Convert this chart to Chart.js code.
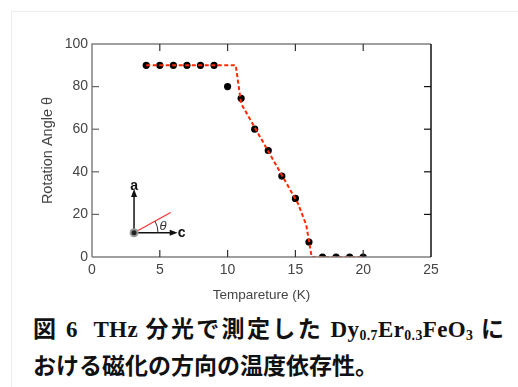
<!DOCTYPE html>
<html lang="ja">
<head>
<meta charset="utf-8">
<script src="https://cdn.jsdelivr.net/npm/chart.js@4"></script>
<style>
  html, body { margin:0; padding:0; background:#fff; }
  body { width:518px; height:387px; position:relative; overflow:hidden; }
  #frame { position:absolute; left:11px; top:11px; right:-10px; bottom:-10px; border-top:1px solid #ececec; border-left:1px solid #ececec; }
  #wrap { position:absolute; left:0; top:0; width:518px; height:310px; }
  #cap { position:absolute; left:33px; top:313px; width:471px; font-family:"Noto Sans CJK JP",sans-serif; font-weight:bold; font-size:23px; line-height:29px; color:#111; white-space:nowrap; }
  #l1 { text-align:justify; text-align-last:justify; white-space:normal; }
  #cap .en { font-family:"Liberation Serif","DejaVu Serif",serif; letter-spacing:0.4px; }
  #cap .thz { margin-left:8px; }
  #cap sub { font-size:0.6em; vertical-align:-0.2em; }
</style>
</head>
<body>
<div id="frame"></div>
<div id="wrap"><canvas id="chart" width="518" height="310"></canvas></div>
<div id="cap">
  <div id="l1">図 <span class="en">6</span> <span class="en thz">THz</span> 分光で測定した <span class="en">Dy<sub>0.7</sub>Er<sub>0.3</sub>FeO<sub>3</sub></span> に</div>
  <div id="l2">おける磁化の方向の温度依存性。</div>
</div>
<script>
// measured points
const tempK = [4, 5, 6, 7, 8, 9, 10, 11, 12, 13, 14, 15, 16, 17, 18, 19, 20]
const angleDeg = [90, 90, 90, 90, 90, 90, 80, 74.5, 60, 50, 38, 27.5, 7, 0, 0, 0, 0]
// red dashed guide line
const fitK = [4, 10.6, 11, 15.2, 15.8, 16.2, 20]
const fitDeg = [90, 90, 72, 25, 15, 0, 0]
const xTicks = [0, 5, 10, 15, 20, 25]
const yTicks = [0, 20, 40, 60, 80, 100]

// inset sketch (crystal axes), in data units
const insetOrigin = [3.1, 11.4]
const insetA = [3.1, 30.5]
const insetC = [6.1, 11.4]
const insetM = [5.8, 20.9]

const toXY = (xs, ys) => xs.map((x, i) => ({x: x, y: ys[i]}))

const tickFont = {family: '"Liberation Sans", Arial, sans-serif', size: 14}
const titleFont = {family: '"Liberation Sans", Arial, sans-serif', size: 13.5}

//box + inward ticks on all four sides
const framePlugin = {
  id: 'frame',
  afterDraw(chart) {
    const {ctx, chartArea: a, scales} = chart
    const x = scales.x, y = scales.y
    const len = 7
    ctx.save()
    ctx.lineWidth = 1.5
    ctx.strokeStyle = '#808080'
    ctx.beginPath()
    ctx.moveTo(a.left, a.bottom); ctx.lineTo(a.left, a.top); ctx.lineTo(a.right, a.top)
    ctx.moveTo(a.left, a.bottom); ctx.lineTo(a.right, a.bottom)
    ctx.stroke()
    ctx.strokeStyle = '#111'
    ctx.beginPath()
    ctx.moveTo(a.right, a.top); ctx.lineTo(a.right, a.bottom)
    ctx.stroke()
    ctx.lineWidth = 1.2
    xTicks.slice(1, -1).forEach(v => {
      const px = x.getPixelForValue(v)
      ctx.strokeStyle = '#333'
      ctx.beginPath()
      ctx.moveTo(px, a.bottom); ctx.lineTo(px, a.bottom - len)
      ctx.moveTo(px, a.top); ctx.lineTo(px, a.top + len)
      ctx.stroke()
    })
    yTicks.slice(1, -1).forEach(v => {
      const py = y.getPixelForValue(v)
      ctx.strokeStyle = '#666'
      ctx.beginPath(); ctx.moveTo(a.left, py); ctx.lineTo(a.left + len, py); ctx.stroke()
      ctx.strokeStyle = '#111'
      ctx.beginPath(); ctx.moveTo(a.right, py); ctx.lineTo(a.right - len, py); ctx.stroke()
    })
    ctx.restore()
  }
}

function arrow(ctx, x0, y0, x1, y1) {
  const ang = Math.atan2(y1 - y0, x1 - x0)
  ctx.beginPath(); ctx.moveTo(x0, y0); ctx.lineTo(x1, y1); ctx.stroke()
  ctx.beginPath()
  ctx.moveTo(x1 + 3 * Math.cos(ang), y1 + 3 * Math.sin(ang))
  ctx.lineTo(x1 - 5 * Math.cos(ang) + 3 * Math.sin(ang), y1 - 5 * Math.sin(ang) - 3 * Math.cos(ang))
  ctx.lineTo(x1 - 5 * Math.cos(ang) - 3 * Math.sin(ang), y1 - 5 * Math.sin(ang) + 3 * Math.cos(ang))
  ctx.closePath(); ctx.fill()
}

const insetPlugin = {
  id: 'inset',
  afterDatasetsDraw(chart) {
    const {ctx} = chart
    const x = chart.scales.x, y = chart.scales.y
    const ox = x.getPixelForValue(insetOrigin[0]), oy = y.getPixelForValue(insetOrigin[1])
    const ax = x.getPixelForValue(insetA[0]), ay = y.getPixelForValue(insetA[1])
    const cx = x.getPixelForValue(insetC[0]), cy = y.getPixelForValue(insetC[1])
    const mx = x.getPixelForValue(insetM[0]), my = y.getPixelForValue(insetM[1])
    ctx.save()
    ctx.strokeStyle = '#111'; ctx.fillStyle = '#111'; ctx.lineWidth = 1.5
    arrow(ctx, ox, oy, ax, ay)
    arrow(ctx, ox, oy, cx, cy)
    ctx.strokeStyle = '#ff3030'; ctx.lineWidth = 1.2
    ctx.beginPath(); ctx.moveTo(ox, oy); ctx.lineTo(mx, my); ctx.stroke()
    // angle arc
    const r = 24
    ctx.strokeStyle = '#333'; ctx.lineWidth = 1
    ctx.beginPath(); ctx.arc(ox, oy, r, Math.atan2(my - oy, mx - ox), 0); ctx.stroke()
    // origin marker
    ctx.fillStyle = '#999'
    ctx.beginPath(); ctx.arc(ox, oy, 4.5, 0, Math.PI * 2); ctx.fill()
    ctx.fillStyle = '#222'
    ctx.beginPath(); ctx.arc(ox, oy, 2.5, 0, Math.PI * 2); ctx.fill()
    ctx.fillStyle = '#111'
    ctx.font = 'bold 14px "Liberation Sans", Arial, sans-serif'
    ctx.textAlign = 'center'; ctx.textBaseline = 'middle'
    ctx.fillText('a', ax, ay - 6)
    ctx.fillText('c', cx + 7, cy)
    ctx.font = 'italic 13px "Liberation Sans", Arial, sans-serif'
    ctx.fillStyle = '#333'
    ctx.fillText('θ', ox + r + 5, oy - 6)
    ctx.restore()
  }
}

new Chart(document.getElementById('chart'), {
  type: 'scatter',
  data: {
    datasets: [
      {
        data: toXY(fitK, fitDeg),
        showLine: true,
        borderColor: '#ff2a00',
        borderWidth: 2,
        borderDash: [4, 2.5],
        pointRadius: 0,
        fill: false
      },
      {
        data: toXY(tempK, angleDeg),
        backgroundColor: '#000',
        borderColor: '#000',
        pointRadius: 3.6,
        pointBorderWidth: 0
      }
    ]
  },
  options: {
    responsive: false,
    animation: false,
    events: [],
    layout: {padding: {left: 35, right: 87, top: 44, bottom: 3}},
    plugins: {legend: {display: false}, tooltip: {enabled: false}},
    scales: {
      x: {
        type: 'linear', min: 0, max: 25,
        afterFit: s => { s.height = 50 },
        afterBuildTicks: s => { s.ticks = xTicks.map(v => ({value: v})) },
        grid: {display: false, drawTicks: false},
        border: {display: false},
        ticks: {color: '#444', font: tickFont, padding: 5, maxRotation: 0},
        title: {display: true, text: 'Tempareture (K)', color: '#444', font: titleFont, padding: {top: 4, bottom: 4}}
      },
      y: {
        type: 'linear', min: 0, max: 100,
        afterFit: s => { s.width = 57 },
        afterBuildTicks: s => { s.ticks = yTicks.map(v => ({value: v})) },
        grid: {display: false, drawTicks: false},
        border: {display: false},
        ticks: {color: '#444', font: tickFont, padding: 4},
        title: {display: true, text: 'Rotation Angle θ', color: '#444', font: {family: titleFont.family, size: 14.5}, padding: {top: 4, bottom: 4}}
      }
    }
  },
  plugins: [framePlugin, insetPlugin]
})
</script>
</body>
</html>
